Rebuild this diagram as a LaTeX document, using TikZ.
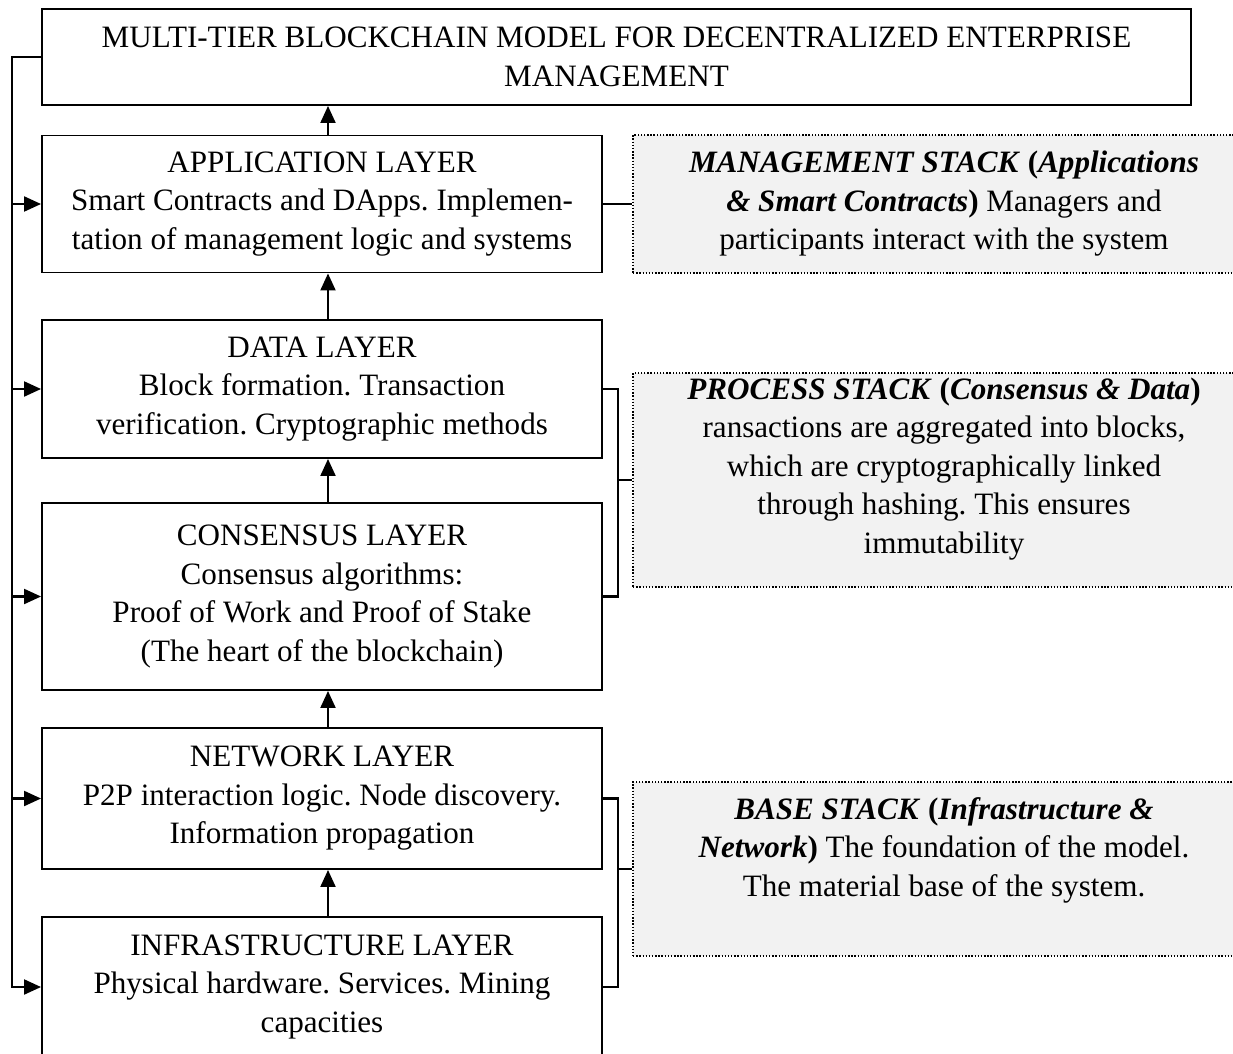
\documentclass[tikz,border=0pt]{standalone}
\usepackage{fontspec}
\setmainfont{Liberation Serif}
\usetikzlibrary{arrows.meta}
\definecolor{stackgray}{HTML}{F2F2F2}
\frenchspacing

\begin{document}
\begin{tikzpicture}[
    layer/.style={draw, line width=1.1pt, minimum width=11.2cm, align=center, inner sep=0pt},
    stack/.style={draw, densely dotted, line width=0.8pt, fill=stackgray, minimum width=12.44cm},
    stacktext/.style={align=center},
    link/.style={line width=1.2pt},
    tip/.style={-{Triangle[length=0.34cm,width=0.3cm]}},
    font=\fontsize{17.7}{21.9}\selectfont
  ]
  \clip (0,0) rectangle (24.66,-21.08);
  \node[layer, minimum width=22.98cm, minimum height=1.92cm] (title) at (12.33,-1.14)
    {MULTI-TIER BLOCKCHAIN MODEL FOR DECENTRALIZED ENTERPRISE\\MANAGEMENT};
  \node[layer, minimum height=2.74cm] (app) at (6.44,-4.08)
    {APPLICATION LAYER\\Smart Contracts and DApps. Implemen-\\tation of management logic and systems};
  \node[layer, minimum height=2.76cm] (data) at (6.44,-7.78)
    {DATA LAYER\\Block formation. Transaction\\verification. Cryptographic methods};
  \node[layer, minimum height=3.74cm] (cons) at (6.44,-11.93)
    {CONSENSUS LAYER\\Consensus algorithms:\\Proof of Work and Proof of Stake\\(The heart of the blockchain)};
  \node[layer, minimum height=2.82cm] (net) at (6.44,-15.97)
    {NETWORK LAYER\\P2P interaction logic. Node discovery.\\Information propagation};
  \node[layer, minimum height=2.8cm] (infra) at (6.44,-19.74)
    {INFRASTRUCTURE LAYER\\Physical hardware. Services. Mining\\capacities};

  \node[stack, minimum height=2.76cm] (mgmt) at (18.88,-4.08) {};
  \node[stack, minimum height=4.28cm] (proc) at (18.88,-9.6) {};
  \node[stack, minimum height=3.48cm] (base) at (18.88,-17.38) {};
  \node[stacktext] (mgmttext) at (18.88,-4.08)
    {\textbf{\textit{MANAGEMENT STACK} (\textit{Applications}}\\
     \textbf{\textit{\& Smart Contracts})} Managers and\\
     participants interact with the system};
  \node[stacktext] (proctext) at (18.88,-9.38)
    {\textbf{\textit{PROCESS STACK} (\textit{Consensus \& Data})}\\
     ransactions are aggregated into blocks,\\
     which are cryptographically linked\\
     through hashing. This ensures\\
     immutability};
  \node[stacktext] (basetext) at (18.88,-17.0)
    {\textbf{\textit{BASE STACK} (\textit{Infrastructure \&}}\\
     \textbf{\textit{Network})} The foundation of the model.\\
     The material base of the system.};

  \draw[link, tip] ([xshift=1.2mm]app.north) -- ([xshift=1.2mm]app.north |- title.south);
  \draw[link, tip] ([xshift=1.2mm]data.north) -- ([xshift=1.2mm]app.south);
  \draw[link, tip] ([xshift=1.2mm]cons.north) -- ([xshift=1.2mm]data.south);
  \draw[link, tip] ([xshift=1.2mm]net.north) -- ([xshift=1.2mm]cons.south);
  \draw[link, tip] ([xshift=1.2mm]infra.north) -- ([xshift=1.2mm]net.south);

  \coordinate (bus) at (0.24,-1.14);
  \draw[link, tip] (title.west) -- (bus) |- (infra.west);
  \foreach \b in {app,data,cons,net}
    \draw[link, tip] (bus |- \b.west) -- (\b.west);

  \coordinate (brk) at (12.36,0);
  \draw[link] (app.east) -- (mgmt.west);
  \draw[link] (data.east) -- (data.east -| brk) -- (cons.east -| brk) -- (cons.east);
  \draw[link] (proc.west -| brk) -- (proc.west);
  \draw[link] (net.east) -- (net.east -| brk) -- (infra.east -| brk) -- (infra.east);
  \draw[link] (base.west -| brk) -- (base.west);
\end{tikzpicture}
\end{document}
